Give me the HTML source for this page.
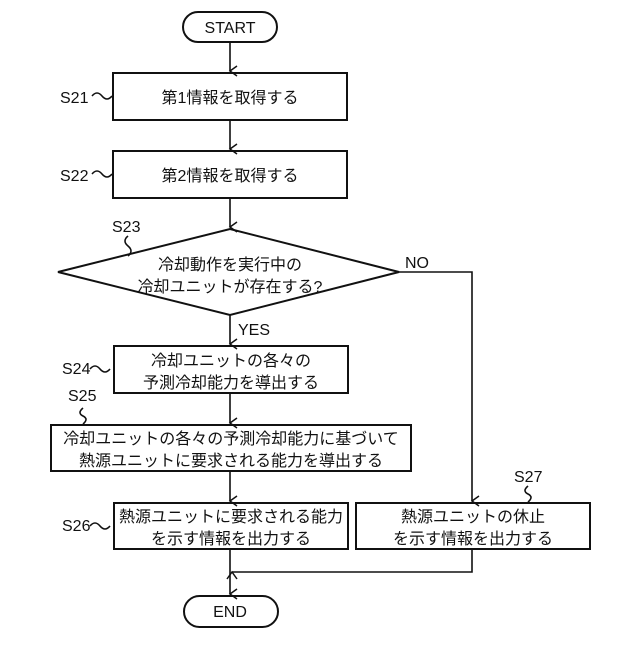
<!DOCTYPE html>
<html><head><meta charset="utf-8"><style>
html,body{margin:0;padding:0;background:#fff}
text{font-family:"Liberation Sans","Noto Sans CJK JP",sans-serif;fill:#111}
</style></head><body>
<svg width="640" height="640" viewBox="0 0 640 640" xmlns="http://www.w3.org/2000/svg">
<defs><marker id="a" markerWidth="12" markerHeight="12" refX="6" refY="10" orient="auto" markerUnits="userSpaceOnUse"><path d="M1,3 L6,10 L11,3" fill="none" stroke="#111" stroke-width="1.5"/></marker></defs>
<g fill="none" stroke="#111" stroke-width="2">
<rect x="183" y="12" width="94" height="30" rx="15"/>
<rect x="113" y="73" width="234" height="47"/>
<rect x="113" y="151" width="234" height="47"/>
<polygon points="58,272 230,229 399,272 230,315"/>
<rect x="114" y="346" width="234" height="47"/>
<rect x="51" y="425" width="360" height="46"/>
<rect x="114" y="503" width="234" height="46"/>
<rect x="356" y="503" width="234" height="46"/>
<rect x="184" y="596" width="94" height="31" rx="15.5"/>
</g>
<g fill="none" stroke="#111" stroke-width="1.6">
<line x1="230" y1="42" x2="230" y2="71" marker-end="url(#a)"/>
<line x1="230" y1="120" x2="230" y2="149" marker-end="url(#a)"/>
<line x1="230" y1="198" x2="230" y2="227" marker-end="url(#a)"/>
<line x1="230" y1="315" x2="230" y2="344" marker-end="url(#a)"/>
<line x1="230" y1="393" x2="230" y2="423" marker-end="url(#a)"/>
<line x1="230" y1="471" x2="230" y2="501" marker-end="url(#a)"/>
<line x1="230" y1="549" x2="230" y2="594" marker-end="url(#a)"/>
<polyline points="399,272 472,272 472,501" marker-end="url(#a)"/>
<polyline points="472,549 472,572 232,572" marker-end="url(#a)"/>
<path d="M92,96 q5,-6 10,0 t10,0"/>
<path d="M92,174 q5,-6 10,0 t10,0"/>
<path d="M90,369 q5,-6 10,0 t10,0"/>
<path d="M90,526 q5,-6 10,0 t10,0"/>
<path d="M128,236 q-6,5 0,10 t0,10"/>
<path d="M83,408 q-6,5 0,8 t0,8"/>
<path d="M528,486 q-6,5 0,8 t0,8"/>
</g>
<g font-size="16">
<text x="230" y="33" text-anchor="middle">START</text>
<text x="230" y="617" text-anchor="middle">END</text>
<text x="60" y="103">S21</text>
<text x="60" y="181">S22</text>
<text x="112" y="232">S23</text>
<text x="62" y="374">S24</text>
<text x="68" y="401">S25</text>
<text x="62" y="531">S26</text>
<text x="514" y="482">S27</text>
<text x="405" y="268">NO</text>
<text x="238" y="335">YES</text>
<text x="230" y="103" text-anchor="middle">第1情報を取得する</text>
<text x="230" y="181" text-anchor="middle">第2情報を取得する</text>
<text x="230" y="270" text-anchor="middle">冷却動作を実行中の</text>
<text x="230" y="292" text-anchor="middle">冷却ユニットが存在する?</text>
<text x="231" y="366" text-anchor="middle">冷却ユニットの各々の</text>
<text x="231" y="388" text-anchor="middle">予測冷却能力を導出する</text>
<text x="231" y="444" text-anchor="middle">冷却ユニットの各々の予測冷却能力に基づいて</text>
<text x="231" y="466" text-anchor="middle">熱源ユニットに要求される能力を導出する</text>
<text x="231" y="522" text-anchor="middle">熱源ユニットに要求される能力</text>
<text x="231" y="544" text-anchor="middle">を示す情報を出力する</text>
<text x="473" y="522" text-anchor="middle">熱源ユニットの休止</text>
<text x="473" y="544" text-anchor="middle">を示す情報を出力する</text>
</g>
</svg>
</body></html>
